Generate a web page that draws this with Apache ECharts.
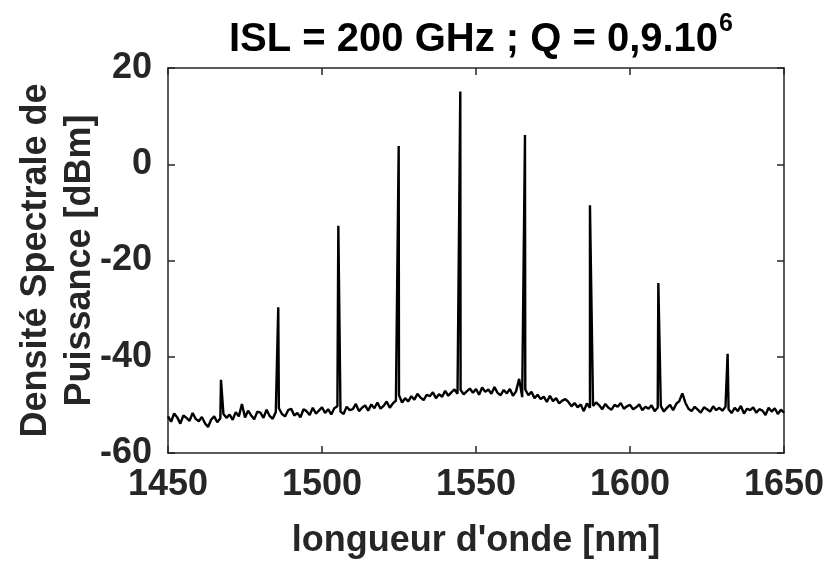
<!DOCTYPE html>
<html>
<head>
<meta charset="utf-8">
<script src="https://cdn.jsdelivr.net/npm/echarts@6/dist/echarts.min.js"></script>
<style>
html,body{margin:0;padding:0;background:#fff;}
#chart{width:825px;height:561px;}
</style>
</head>
<body>
<div id="chart"></div>
<script>
// Noise floor, 1 nm steps from 1450 nm to 1650 nm (dBm)
var floorStart = 1450;
var floorStep = 1;
var floorValues = [
  -52.4,-53.5,-51.8,-52.6,-53.9,-52.2,-52.7,-53.3,-51.7,-52.9,
  -53.4,-52.5,-53.8,-54.6,-53.1,-52.4,-53.6,-52.8,-51.9,-52.7,
  -52.0,-53.1,-51.5,-52.4,-49.8,-52.6,-51.2,-52.2,-53.0,-51.4,
  -51.6,-52.7,-51.0,-52.3,-52.9,-51.5,-50.7,-51.9,-52.4,-51.1,
  -50.8,-52.2,-51.7,-52.6,-50.9,-51.3,-52.1,-50.6,-51.8,-51.2,
  -50.5,-51.7,-50.9,-52.0,-50.7,-50.3,-51.4,-51.9,-50.4,-51.1,
  -50.9,-49.8,-51.3,-50.6,-50.1,-51.2,-49.9,-50.7,-49.5,-50.8,
  -50.2,-49.3,-50.6,-49.7,-49.1,-48.0,-49.5,-48.6,-49.3,-48.2,
  -48.9,-47.7,-48.5,-49.0,-47.9,-48.2,-47.4,-48.6,-47.8,-48.3,
  -47.1,-48.1,-47.4,-46.8,-47.7,-46.9,-47.8,-47.2,-46.6,-47.5,
  -46.7,-47.9,-46.4,-47.3,-46.8,-47.7,-46.3,-47.5,-48.0,-46.9,
  -47.6,-46.7,-48.1,-47.2,-44.6,-48.4,-46.8,-48.0,-47.3,-48.6,
  -47.9,-48.8,-48.3,-49.4,-48.1,-49.2,-48.6,-49.7,-49.1,-48.8,
  -49.4,-50.3,-49.6,-50.5,-49.9,-51.3,-49.7,-50.6,-50.2,-49.5,
  -50.1,-50.9,-49.8,-50.6,-51.0,-50.0,-50.4,-49.6,-50.8,-50.3,
  -50.0,-50.9,-50.5,-49.9,-51.1,-50.4,-50.8,-50.1,-51.3,-50.6,
  -50.2,-51.4,-50.6,-50.0,-51.1,-49.8,-49.2,-47.6,-49.6,-50.8,
  -51.3,-50.4,-51.0,-51.6,-50.5,-50.9,-51.4,-50.3,-51.1,-50.6,
  -51.2,-50.4,-50.9,-51.7,-50.6,-51.3,-50.2,-51.8,-50.8,-51.1,
  -50.5,-51.6,-50.9,-51.2,-52.1,-50.6,-51.4,-50.7,-51.9,-51.0,
  -51.6
];
// Comb lines
var peakWavelengths = [1467.2, 1485.8, 1505.3, 1524.9, 1544.9, 1565.9, 1587.0, 1609.2, 1631.7];
var peakValues      = [-44.8,  -29.7,  -12.8,   3.8,    15.1,   6.1,    -8.5,   -24.7,  -39.4];

var xTicks = [1450, 1500, 1550, 1600, 1650];
var yTicks = [-60, -40, -20, 0, 20];

var titleMain = 'ISL = 200 GHz ; Q = 0,9.10';
var titleSup = '6';
var xName = "longueur d'onde [nm]";
var yName = 'Densité Spectrale de\nPuissance [dBm]';

// build series
var pts = [];
for (var i = 0; i < floorValues.length; i++) {
  pts.push([floorStart + i * floorStep, floorValues[i]]);
}
for (var j = 0; j < peakWavelengths.length; j++) {
  pts.push([peakWavelengths[j], peakValues[j]]);
}
pts.sort(function (a, b) { return a[0] - b[0]; });

var FONT = 'Liberation Sans';
var AX = '#262626';
function plain(v) { return String(v); }

var chart = echarts.init(document.getElementById('chart'), null, {renderer: 'canvas'});
chart.setOption({
  animation: false,
  backgroundColor: '#ffffff',
  title: {
    text: '{m|' + titleMain + '}{s|' + titleSup + '}',
    left: 476,
    textAlign: 'center',
    top: 7,
    textStyle: {
      rich: {
        m: {fontFamily: FONT, fontWeight: 'bold', fontSize: 40, color: '#000', lineHeight: 48, verticalAlign: 'bottom'},
        s: {fontFamily: FONT, fontWeight: 'bold', fontSize: 25, color: '#000', lineHeight: 48, verticalAlign: 'top', padding: [0, 0, 0, 1]}
      }
    }
  },
  grid: {left: 168, right: 41, top: 68, bottom: 108, containLabel: false, outerBoundsMode: 'none'},
  xAxis: [{
    type: 'value', min: xTicks[0], max: xTicks[xTicks.length - 1], interval: 50,
    position: 'bottom',
    name: xName, nameLocation: 'middle', nameGap: 70, nameMoveOverlap: false,
    nameTextStyle: {fontFamily: FONT, fontWeight: 'bold', fontSize: 36, color: AX},
    axisLine: {show: true, onZero: false, lineStyle: {color: AX, width: 1.5}},
    axisTick: {show: true, inside: true, length: 7, lineStyle: {color: AX, width: 1.5}},
    axisLabel: {fontFamily: FONT, fontWeight: 'bold', fontSize: 36, color: AX, margin: 14, formatter: plain},
    splitLine: {show: false}
  }, {
    type: 'value', min: xTicks[0], max: xTicks[xTicks.length - 1], interval: 50,
    position: 'top',
    axisLine: {show: true, onZero: false, lineStyle: {color: AX, width: 1.5}},
    axisTick: {show: true, inside: true, length: 7, lineStyle: {color: AX, width: 1.5}},
    axisLabel: {show: false},
    splitLine: {show: false}
  }],
  yAxis: [{
    type: 'value', min: yTicks[0], max: yTicks[yTicks.length - 1], interval: 20,
    position: 'left',
    name: yName, nameLocation: 'middle', nameGap: 66, nameRotate: 90, nameMoveOverlap: false,
    nameTextStyle: {fontFamily: FONT, fontWeight: 'bold', fontSize: 36, color: AX, lineHeight: 44},
    axisLine: {show: true, onZero: false, lineStyle: {color: AX, width: 1.5}},
    axisTick: {show: true, inside: true, length: 7, lineStyle: {color: AX, width: 1.5}},
    axisLabel: {fontFamily: FONT, fontWeight: 'bold', fontSize: 36, color: AX, margin: 16, formatter: plain},
    splitLine: {show: false}
  }, {
    type: 'value', min: yTicks[0], max: yTicks[yTicks.length - 1], interval: 20,
    position: 'right',
    axisLine: {show: true, onZero: false, lineStyle: {color: AX, width: 1.5}},
    axisTick: {show: true, inside: true, length: 7, lineStyle: {color: AX, width: 1.5}},
    axisLabel: {show: false},
    splitLine: {show: false}
  }],
  series: [{
    type: 'line',
    data: pts,
    xAxisIndex: 0, yAxisIndex: 0,
    showSymbol: false,
    symbol: 'none',
    lineStyle: {color: '#000', width: 2.4},
    clip: true
  }]
});
</script>
</body>
</html>
